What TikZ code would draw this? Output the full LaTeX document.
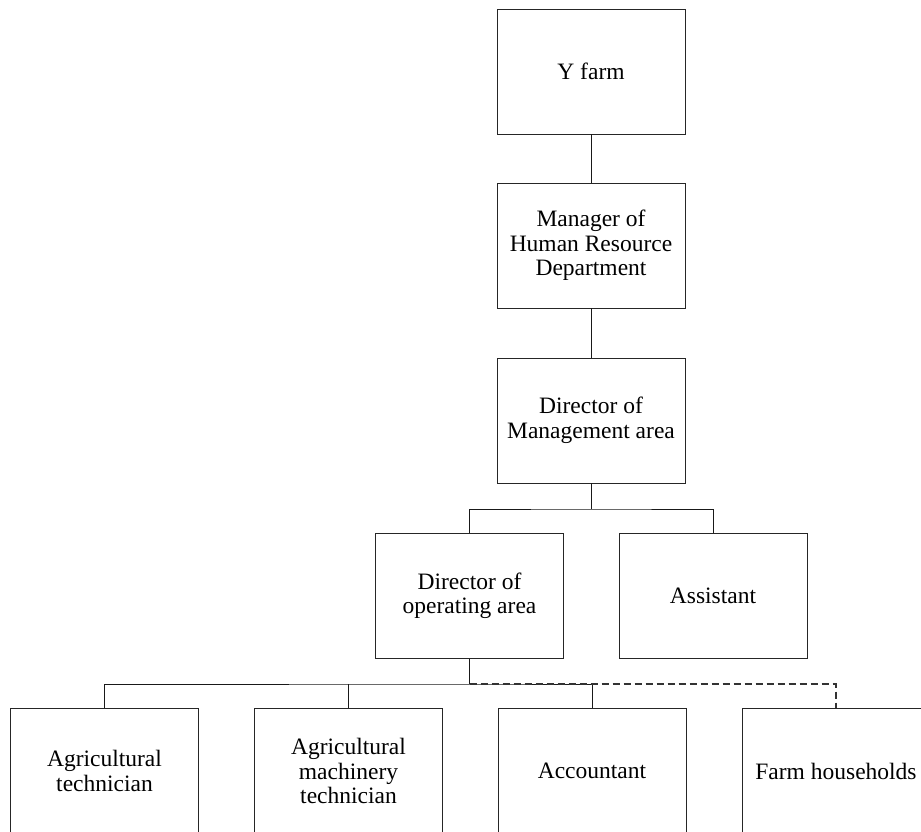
\documentclass[tikz,border=0pt]{standalone}
\usepackage{fontspec}
\setmainfont{Liberation Serif}
\begin{document}
\begin{tikzpicture}[x=1pt,y=-1pt,
  orgbox/.style={draw=black!85, line width=0.9pt, rectangle,
    minimum width=188pt, minimum height=125pt, inner sep=2pt,
    align=center, font=\fontsize{23.5}{24.5}\selectfont},
  link/.style={draw=black!90, line width=0.9pt},
  dashlink/.style={draw=black!80, line width=1.1pt, dash pattern=on 7pt off 4pt}]
\useasboundingbox (0,0) rectangle (921,832);

% hierarchy boxes
\node[orgbox] (yfarm) at (591,71.5)  {Y farm};
\node[orgbox] (hrm)   at (591,245.5) {Manager of\\Human Resource\\Department};
\node[orgbox] (dma)   at (591,420.5) {Director of\\Management area};
\node[orgbox] (doa)   at (469.5,596) {Director of\\operating area};
\node[orgbox] (asst)  at (713,596)   {Assistant};
\node[orgbox] (agt)   at (104.5,771) {Agricultural\\technician};
\node[orgbox] (amt)   at (348.5,771) {Agricultural\\machinery\\technician};
\node[orgbox] (acc)   at (592,771)   {Accountant};
\node[orgbox] (farm)  at (836,771)   {Farm households};

% bus junctions
\coordinate (busA) at (591,509);
\coordinate (busB) at (469.5,684);

% connectors
\draw[link] (yfarm) -- (hrm);
\draw[link] (hrm) -- (dma);
\draw[link] (dma.south) -- (busA);
\draw[link] (doa.north) |- (busA) -| (asst.north);
\draw[link] (doa.south) -- (busB);
\draw[link] (agt.north) |- (busB) -| (acc.north);
\draw[link] (amt.north) -- (amt.north |- busB);
\draw[dashlink] (busB) -| (farm.north);
\end{tikzpicture}
\end{document}
